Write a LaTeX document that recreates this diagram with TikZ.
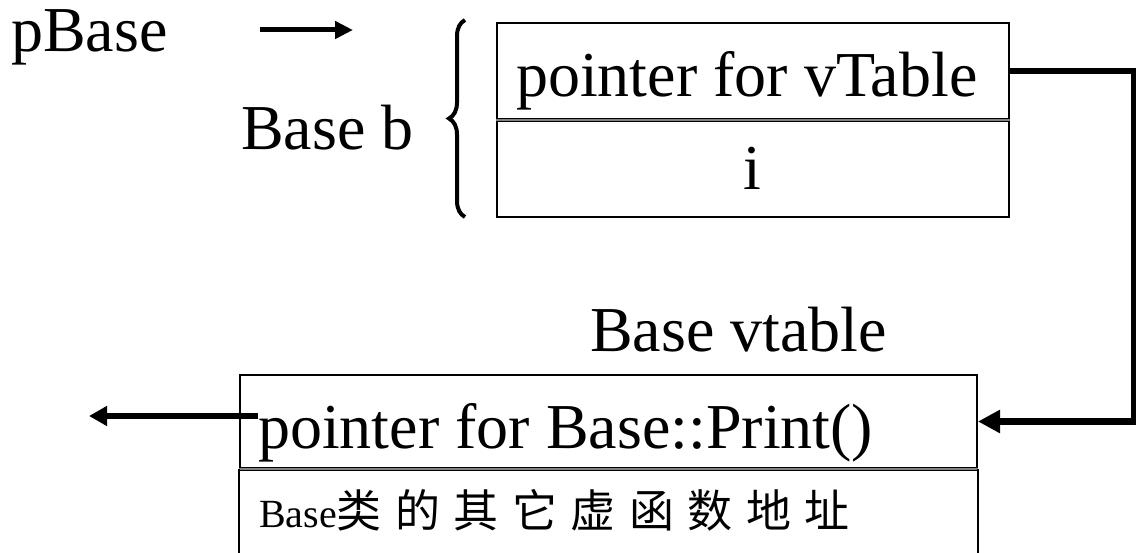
\documentclass[tikz,border=0pt]{standalone}
\usepackage{fontspec}
\setmainfont{Liberation Serif}
\newfontfamily\cjk[LetterSpace=30]{Noto Sans CJK SC}
\usetikzlibrary{arrows.meta,positioning,decorations.pathreplacing}

\begin{document}
\begin{tikzpicture}[x=1pt, y=-1pt,
    txt/.style={font=\fontsize{64}{64}\selectfont, inner sep=0pt, anchor=base west},
    cell/.style={draw, line width=2pt, inner sep=0pt},
    divider/.style={line width=1.3pt, double=gray, double distance=1.3pt},
    ptr/.style={line width=6.5pt, -{Triangle[length=22pt,width=22pt]}}]
    \useasboundingbox (0,0) rectangle (1136,553);

    \node[txt] (pbase) at (11,52) {pBase};
    \coordinate (bobj) at (353,30);
    \draw[ptr, line width=5pt, -{Triangle[length=18pt,width=17pt]}, shorten <=92pt] (pbase.east |- bobj) -- (bobj);

    \node[txt] (baseb) at (241,150) {Base b};
    \draw[line width=4pt, decorate, decoration={brace, amplitude=16pt}] (465,217) -- (465,20);

    \node[cell, minimum width=512pt, minimum height=96pt] (vptr) at (753,71) {};
    \node[cell, minimum width=512pt, minimum height=98pt] (ival) at (753,168) {};
    \draw[divider] (vptr.south west) -- (vptr.south east);
    \node[txt] (vptrtxt) at (516,97) {pointer for vTable};
    \node[txt, anchor=base] (itxt) at (752,190) {i};

    \node[txt] (vtname) at (590,352) {Base vtable};
    \node[cell, minimum width=737pt, minimum height=93pt] (printfn) at (608.5,421.5) {};
    \draw[divider] (printfn.south west) -- (printfn.south east);
    \draw[line width=2pt] (printfn.south west) -- ++(0,90) (printfn.south east) -- ++(0,90);
    \node[txt] (printtxt) at (258,449) {pointer for Base::Print()};
    \node[txt, font=\fontsize{40}{40}\selectfont] (others) at (259,527) {Base{\fontsize{45}{45}\cjk 类的其它虚函数地址}};

    \draw[ptr] (vptr.east) -- ++(124,0) |- (printfn.east);
    \coordinate (fnaddr) at (89,416);
    \draw[ptr, -{Triangle[length=18pt,width=19pt]}] (fnaddr -| printtxt.west) -- (fnaddr);
\end{tikzpicture}
\end{document}
